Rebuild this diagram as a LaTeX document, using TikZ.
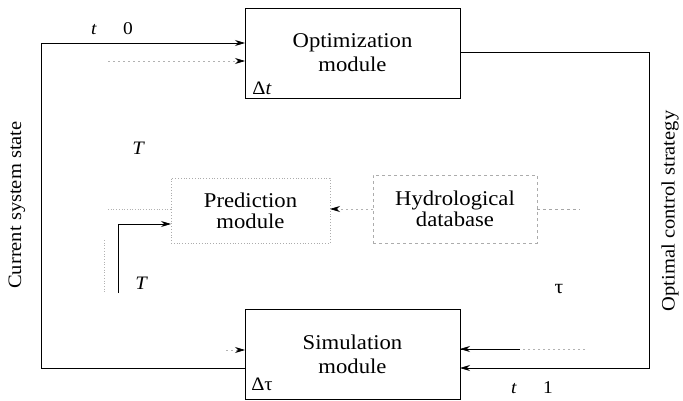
\documentclass[tikz,border=0pt]{standalone}
\usepackage{fontspec}
\setmainfont{Liberation Serif}[FakeStretch=1.08]
\usetikzlibrary{arrows.meta}
\begin{document}
\begin{tikzpicture}[x=1pt,y=-1pt,
  wire/.style={line width=0.8pt, black},
  faintwire/.style={line width=0.7pt, gray!60, dash pattern=on 2pt off 3pt},
  tip/.style={-{Stealth[length=10pt,width=6pt,color=black]}},
  modbox/.style={draw=black, line width=0.8pt, inner sep=0pt, outer sep=0pt,
    align=center, font=\fontsize{21}{24}\selectfont},
  softbox/.style={modbox, draw=gray!65, font=\fontsize{21}{21}\selectfont},
  lbl/.style={inner sep=0pt, font=\fontsize{18}{20}\selectfont},
  sidelbl/.style={rotate=90, inner sep=0pt, font=\fontsize{19}{21}\selectfont}]
\useasboundingbox (0,0) rectangle (683,401);

% modules
\node[modbox, minimum width=215pt, minimum height=90pt] (opt) at (352.5,53) {Optimization\\module};
\node[modbox, minimum width=215pt, minimum height=90pt] (sim) at (352.5,354.5) {Simulation\\module};
\node[softbox, dotted, minimum width=159pt, minimum height=65pt] (pred) at (250.5,210.5) {Prediction\\module};
\node[softbox, dashed, minimum width=164pt, minimum height=68pt] (hyd) at (455,209) {Hydrological\\database};

% step sizes inside the modules
\node[lbl, font=\fontsize{19}{20}\selectfont] (dt) at (262,88) {Δ\textit{t}};
\node[lbl, font=\fontsize{19}{20}\selectfont] (dtau) at (262,384) {Δτ};

% corner points of the feedback loops
\coordinate (cTL) at (41,43);
\coordinate (cBL) at (41,368);
\coordinate (cTR) at (649,52);
\coordinate (cBR) at (649,368);

% state fed back from simulation to optimization
\draw[wire, tip] (sim.west |- cBL) -- (cBL) -- (cTL) -- (opt.west |- cTL);
% control strategy passed to the simulation
\draw[wire, tip] (opt.east |- cTR) -- (cTR) -- (cBR) -- (sim.east |- cBR);

% secondary inputs
\coordinate (fOpt) at (108,61);
\draw[faintwire, tip] (fOpt) -- (opt.west |- fOpt);
\coordinate (fSimR) at (585,349);
\draw[faintwire, tip] (fSimR) -- (sim.east |- fSimR);
\draw[wire] (sim.east |- fSimR) -- ++(60,0);
\coordinate (fSimL) at (226,350);
\draw[faintwire, tip] (fSimL) -- (sim.west |- fSimL);

% inputs of the prediction module
\coordinate (pA) at (108,209);
\draw[faintwire, dotted] (pA) -- (pred.west |- pA);
\coordinate (pB) at (118,293);
\coordinate (pBend) at (118,224);
\draw[wire, tip] (pB) -- (pBend) -- (pred.west |- pBend);
\coordinate (vA) at (104,240);
\coordinate (vB) at (104,292);
\draw[faintwire, dotted] (vA) -- (vB);

% database feeding the prediction
\draw[faintwire, tip] (hyd.west) -- (pred.east |- hyd.west);
\coordinate (hOut) at (580,209);
\draw[faintwire, dashed, gray!70] (hyd.east) -- (hOut);

% time labels
\node[lbl] (t0) at (112,29) {\textit{t}\hspace{26pt}0};
\node[lbl] (t1) at (532,388) {\textit{t}\hspace{26pt}1};
\node[lbl, font=\fontsize{19}{20}\selectfont\itshape] (Ttop) at (138,148) {T};
\node[lbl, font=\fontsize{19}{20}\selectfont\itshape] (Tbot) at (141,283) {T};
\node[lbl, font=\fontsize{20}{20}\selectfont] (tau) at (559,289) {τ};

% side labels
\node[sidelbl] (lblL) at (17,205) {Current system state};
\node[sidelbl] (lblR) at (670,211) {Optimal control strategy};
\end{tikzpicture}
\end{document}
